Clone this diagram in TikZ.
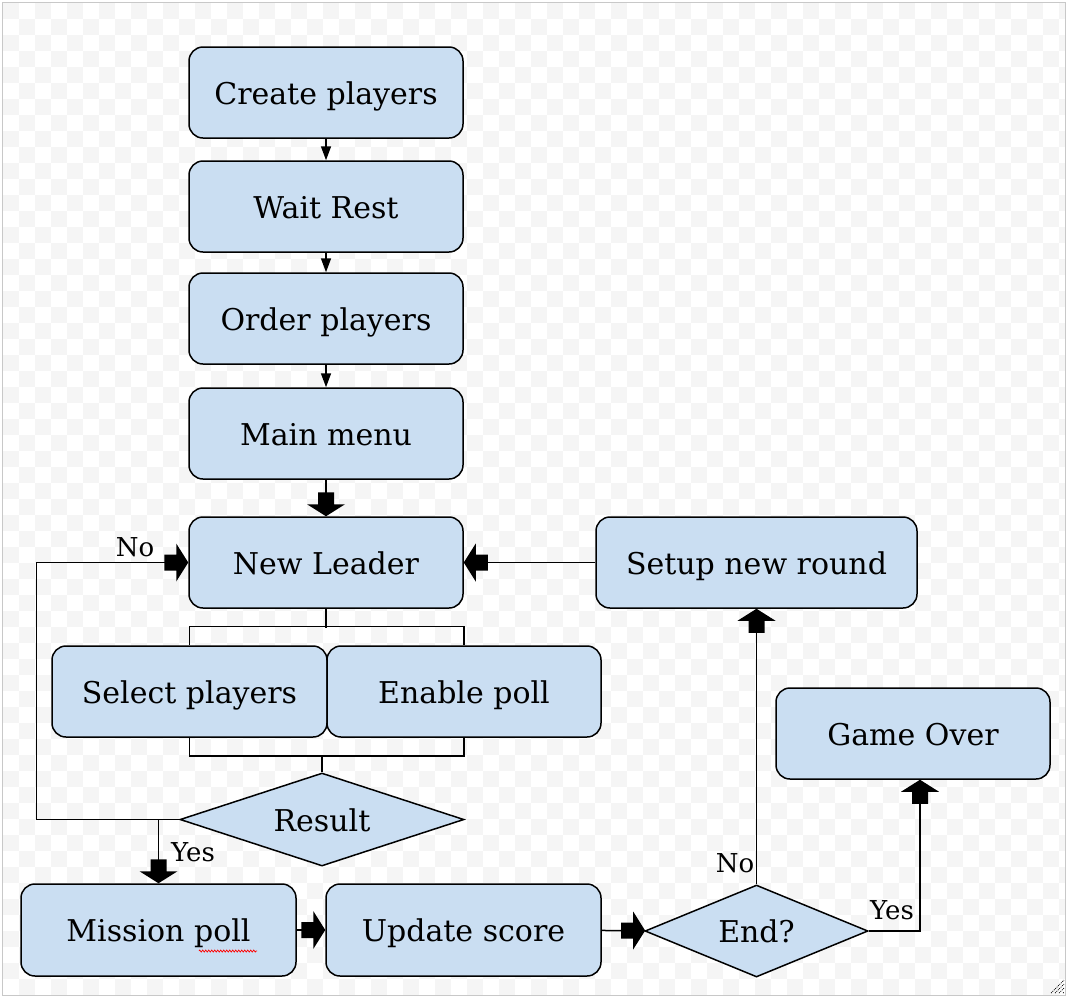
\documentclass[tikz,border=0pt]{standalone}
\usepackage{fontspec}
\setmainfont{DejaVu Serif}
\usetikzlibrary{arrows.meta,shapes.geometric,decorations.pathmorphing}
\definecolor{boxfill}{RGB}{202,222,242}
\definecolor{checkgray}{RGB}{245,245,245}
\definecolor{framegray}{RGB}{200,200,200}
\pgfdeclarearrow{
  name = BlockArrow,
  setup code = {
    \pgfarrowssettipend{0pt}
    \pgfarrowssetlineend{-23pt}
    \pgfarrowssetbackend{-24pt}
    \pgfarrowshullpoint{0pt}{0pt}
    \pgfarrowshullpoint{-12pt}{19pt}
    \pgfarrowshullpoint{-12pt}{-19pt}
    \pgfarrowshullpoint{-24pt}{8pt}
    \pgfarrowshullpoint{-24pt}{-8pt}
  },
  drawing code = {
    \pgfpathmoveto{\pgfpoint{0pt}{0pt}}
    \pgfpathlineto{\pgfpoint{-12pt}{19pt}}
    \pgfpathlineto{\pgfpoint{-12pt}{8pt}}
    \pgfpathlineto{\pgfpoint{-24pt}{8pt}}
    \pgfpathlineto{\pgfpoint{-24pt}{-8pt}}
    \pgfpathlineto{\pgfpoint{-12pt}{-8pt}}
    \pgfpathlineto{\pgfpoint{-12pt}{-19pt}}
    \pgfpathclose
    \pgfusepathqfill
  }
}
\begin{document}
\begin{tikzpicture}[x=1pt,y=-1pt,
  every node/.style={font=\fontsize{30}{35}\selectfont},
  stepbox/.style={draw,line width=1.5pt,fill=boxfill,rounded corners=14pt,
     minimum width=274pt,minimum height=91pt,inner sep=0pt,
     text height=29pt,text depth=6pt},
  decision/.style={draw,line width=1.5pt,fill=boxfill,diamond,inner sep=0pt,
     text height=29pt,text depth=6pt},
  conn/.style={line width=1.5pt},
  smallarrow/.style={conn,-{Triangle[width=10pt,length=14pt]}},
  bigarrow/.style={conn,-BlockArrow},
  lbl/.style={font=\fontsize{26}{30}\selectfont,inner sep=0pt}]
\useasboundingbox (0,0) rectangle (1068,997);
% background
\fill[white] (0,0) rectangle (1068,997);
\begin{scope}
\clip (3,3) rectangle (1065,995);
\foreach \i in {0,...,66}{
  \pgfmathtruncatemacro{\s}{mod(\i,2)}
  \pgfmathtruncatemacro{\t}{\s+2}
  \foreach \j in {\s,\t,...,61}{
    \fill[checkgray] ({3+16*\i},{3+16*\j}) rectangle ++(16,16);
  }
}
\end{scope}
\draw[framegray,line width=1pt] (2.5,2.5) rectangle (1065.5,995.5);
\foreach \k in {0,4,8,12}{
  \draw[black,line width=0.7pt,dash pattern=on 1pt off 1pt] ({1051+\k},993) -- (1064,{980+\k});
}

% nodes
\node[stepbox] (cp) at (326,92.5) {Create players};
\node[stepbox] (wr) at (326,206.5) {Wait Rest};
\node[stepbox] (op) at (326,318.5) {Order players};
\node[stepbox] (mm) at (326,433.5) {Main menu};
\node[stepbox] (nl) at (326,562.5) {New Leader};
\node[stepbox,minimum width=321pt] (snr) at (756.5,562.5) {Setup new round};
\node[stepbox,minimum width=275pt] (sp) at (189.5,691.5) {Select players};
\node[stepbox] (ep) at (464,691.5) {Enable poll};
\node[decision,shape aspect=3,minimum width=284pt,minimum height=93pt] (res) at (322,819.5) {Result};
\node[stepbox,minimum width=275pt,minimum height=92pt] (mp) at (158.5,930) {Mission poll};
\node[stepbox,minimum width=275pt,minimum height=92pt] (us) at (463.5,930) {Update score};
\node[decision,shape aspect=2.4,minimum width=223pt,minimum height=92pt] (end) at (756.5,931) {End?};
\node[stepbox] (go) at (913,733.5) {Game Over};

% spelling squiggle under "poll"
\draw[red,line width=0.7pt,decorate,decoration={zigzag,amplitude=1pt,segment length=3pt}] (199,951) -- (257,951);

% connectors
\draw[smallarrow] (cp) -- (wr);
\draw[smallarrow] (wr) -- (op);
\draw[smallarrow] (op) -- (mm);
\draw[bigarrow] (mm) -- (nl);
\draw[bigarrow] (snr) -- (nl);
\draw[conn] (nl.south) -- ++(0,19);
\draw[conn] (sp.north) -- ++(0,-19) -| (ep.north);
\draw[conn] (sp.south) -- ++(0,18) coordinate (brbot) -| (ep.south);
\draw[conn] (res.north) -- (res.north |- brbot);
\draw[bigarrow] (res.west) -- ++(-143,0) |- (nl.west);
\draw[bigarrow] (mp.north |- res.west) -- (mp.north);
\draw[bigarrow] (mp) -- (us);
\draw[bigarrow] (us) -- (end);
\draw[bigarrow] (end.north) -- (end.north |- snr.south);
\draw[bigarrow] (end.east) -| ([xshift=7pt]go.south);

% labels
\node[lbl] (lno1) at (135,547) {No};
\node[lbl] (lyes1) at (193,852) {Yes};
\node[lbl] (lno2) at (735,863) {No};
\node[lbl] (lyes2) at (892,910) {Yes};
\end{tikzpicture}
\end{document}
